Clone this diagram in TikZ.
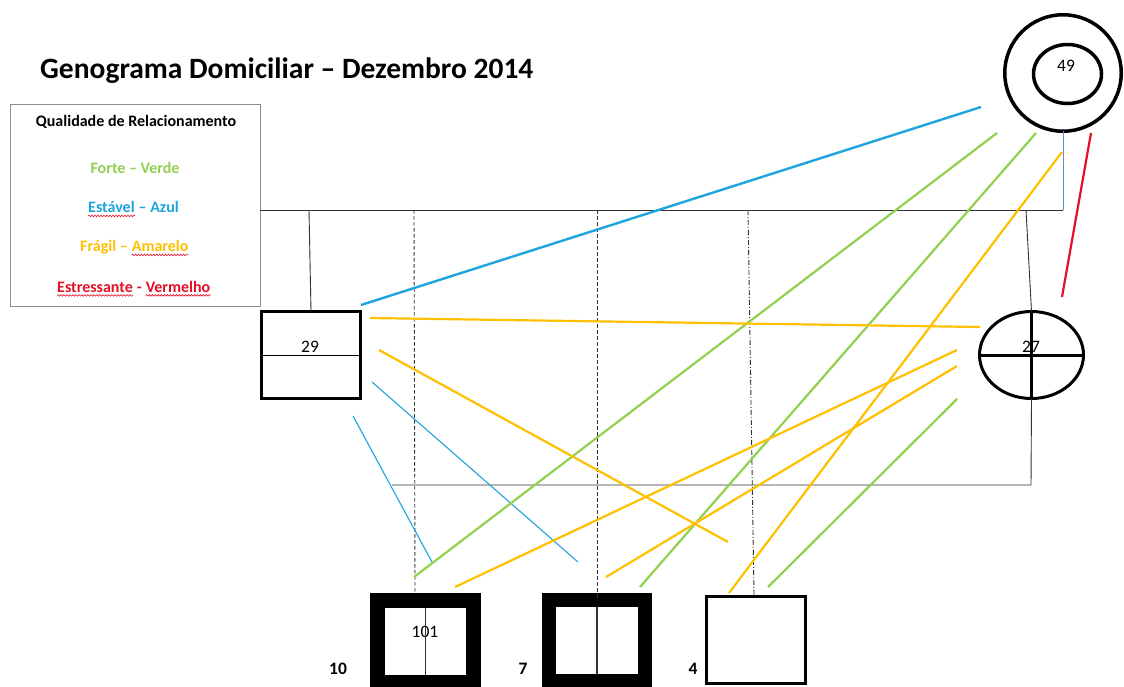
\documentclass[tikz,border=0pt]{standalone}
\usepackage{fontspec}
\setmainfont{Carlito}
\usetikzlibrary{shapes.geometric,decorations.pathmorphing}
\definecolor{verde}{RGB}{146,208,80}
\definecolor{azul}{RGB}{30,165,222}
\definecolor{amarelo}{RGB}{255,192,0}
\definecolor{vermelho}{RGB}{228,16,40}
\definecolor{azulcinza}{RGB}{95,140,200}
\definecolor{cinza}{RGB}{50,50,50}
\tikzset{
  person/.style={draw=black, inner sep=0pt, outer sep=0pt},
  conn/.style={draw=cinza, line width=0.9pt},
  childline/.style={draw=cinza, line width=0.9pt, dash pattern=on 3.5pt off 2.5pt},
  childdot/.style={draw=cinza, line width=0.9pt, dash pattern=on 5pt off 2pt on 1pt off 2pt},
  forte/.style={draw=verde, line width=2.2pt},
  estavel/.style={draw=azul, line width=2.4pt},
  estavelfino/.style={draw=azul, line width=1.1pt},
  fragil/.style={draw=amarelo, line width=2.2pt},
  estress/.style={draw=vermelho, line width=2.2pt},
  num/.style={font=\fontsize{17.5}{19}\selectfont, inner sep=0pt},
  bnum/.style={font=\fontsize{17.5}{19}\selectfont\bfseries, inner sep=0pt},
  legtext/.style={font=\fontsize{16}{18}\selectfont\bfseries, inner sep=0pt},
  legword/.style={legtext, anchor=base west},
  spell/.style={append after command={([yshift=-3.4pt]\tikzlastnode.base west) edge[draw=vermelho, line width=0.6pt, decorate, decoration={snake, amplitude=0.8pt, segment length=3pt}] ([yshift=-3.4pt]\tikzlastnode.base east)}}
}
\begin{document}
\begin{tikzpicture}[x=1pt,y=-1pt]
\useasboundingbox[fill=white] (0,0) rectangle (1124,686);
% title
\node[anchor=base west, inner sep=0pt, font=\fontsize{29.5}{32}\selectfont\bfseries] (title) at (40,78) {Genograma Domiciliar – Dezembro 2014};
% legend
\node[draw=black!45, line width=0.9pt, minimum width=250, minimum height=202, inner sep=0pt] (legend) at (135,205) {};
\node[legtext] (lq) at (136,122) {Qualidade de Relacionamento};
\node[legtext, text=verde] (lf) at (135,168) {Forte – Verde};
\node[legword, text=azul, spell] (le1) at (88,212.5) {Estável};
\node[legword, text=azul] (le2) at (le1.base east) {\ – Azul};
\node[legword, text=amarelo] (la1) at (80,251.5) {Frágil –\ \hbox{}};
\node[legword, text=amarelo, spell] (la2) at (la1.base east) {Amarelo};
\node[legword, text=vermelho, spell] (lv1) at (57,292) {Estressante};
\node[legword, text=vermelho] (lv2) at (lv1.base east) {\ -\ \hbox{}};
\node[legword, text=vermelho, spell] (lv3) at (lv2.base east) {Vermelho};
% persons
\node[person, circle, minimum size=116.5, line width=3.5pt] (p49) at (1063,73) {};
\node[person, ellipse, minimum width=68, minimum height=59, line width=3.5pt] (p49in) at (1067.5,74) {};
\node[num] (t49) at (1066,66) {49};
\node[person, rectangle, minimum width=99, minimum height=87, line width=3pt] (p29) at (311,355) {};
\node[num] (t29) at (310,347) {29};
\node[person, ellipse, minimum width=104, minimum height=87, line width=3pt] (p27) at (1031.5,355) {};
\node[num] (t27) at (1031,347) {27};
\node[person, rectangle, minimum width=96, minimum height=82, line width=15pt] (p10) at (425.5,641.5) {};
\node[num] (t101) at (425,632) {101};
\node[bnum] (l10) at (338,669) {10};
\node[person, rectangle, minimum width=96, minimum height=81, line width=14pt] (p7) at (597,640.5) {};
\node[bnum] (l7) at (523,669) {7};
\node[person, rectangle, minimum width=99, minimum height=87, line width=3pt] (p4) at (756,640) {};
\node[bnum] (l4) at (693,669) {4};
% inner lines of symbols
\draw[line width=1pt] (p29.west) -- (p29.east);
\draw[line width=3pt] (p27.west) -- (p27.east);
\draw[line width=3pt] (p27.north) -- (p27.south);
\draw[draw=cinza, line width=1.2pt] ([yshift=-7.5pt]p10.north) -- ([yshift=7.5pt]p10.south);
\draw[draw=cinza, line width=1.2pt] ([yshift=-7pt]p7.north) -- ([yshift=7pt]p7.south);
% family connectors
\coordinate (mL) at (260,210);
\coordinate (mR) at (1063,210);
\coordinate (d29) at (309,210);
\coordinate (d27) at (1026,210);
\coordinate (c10) at (414,210);
\coordinate (c10b) at (415,593);
\coordinate (c7) at (597,210);
\coordinate (c4) at (748,210);
\coordinate (c4b) at (754,595);
\coordinate (hL) at (392,485);
\coordinate (hR) at (1031,485);
\draw[conn] (mL) -- (mR);
\draw[draw=azulcinza, line width=1pt] (mR) -- (p49.south);
\draw[conn] (d29) -- (p29.north);
\draw[conn] (d27) -- (p27.north);
\draw[conn] (p27.south) -- (hR) -- (hL);
\draw[childline] (c10) -- (c10b);
\draw[childline] (c7) -- (p7.north);
\draw[childdot] (c4) -- (c4b);
% relationship lines
\coordinate (b1a) at (361,305); \coordinate (b1b) at (981,107);
\coordinate (b2a) at (353,416); \coordinate (b2b) at (432,562);
\coordinate (b3a) at (372,382); \coordinate (b3b) at (578,562);
\coordinate (g1a) at (997,133); \coordinate (g1b) at (414,577);
\coordinate (g2a) at (1036,133); \coordinate (g2b) at (640,587);
\coordinate (g3a) at (957,399); \coordinate (g3b) at (768,587);
\coordinate (y1a) at (1062,152); \coordinate (y1b) at (729,593);
\coordinate (y2a) at (370,318); \coordinate (y2b) at (980,327);
\coordinate (y3a) at (379,350); \coordinate (y3b) at (728,542);
\coordinate (y4a) at (957,350); \coordinate (y4b) at (455,587);
\coordinate (y5a) at (957,366); \coordinate (y5b) at (606,577);
\coordinate (ra) at (1091,133); \coordinate (rb) at (1062,297);
\draw[estavel] (b1a) -- (b1b);
\draw[estavelfino] (b2a) -- (b2b);
\draw[estavelfino] (b3a) -- (b3b);
\draw[forte] (g1a) -- (g1b);
\draw[forte] (g2a) -- (g2b);
\draw[forte] (g3a) -- (g3b);
\draw[fragil] (y1a) -- (y1b);
\draw[fragil] (y2a) -- (y2b);
\draw[fragil] (y3a) -- (y3b);
\draw[fragil] (y4a) -- (y4b);
\draw[fragil] (y5a) -- (y5b);
\draw[estress] (ra) -- (rb);
\end{tikzpicture}
\end{document}
